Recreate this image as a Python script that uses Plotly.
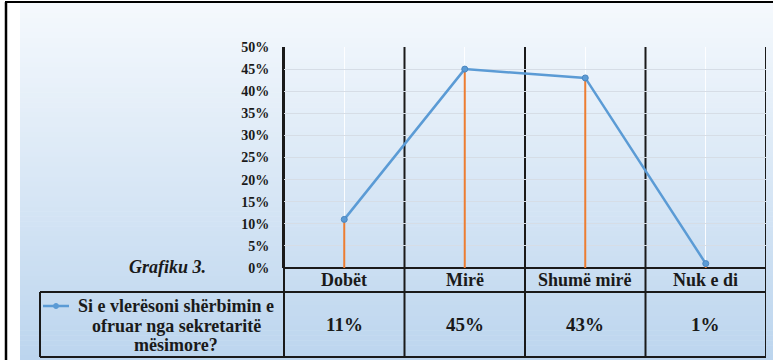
import plotly.graph_objects as go

# ---------------- data ----------------
categories = ["Dobët", "Mirë", "Shumë mirë", "Nuk e di"]
values = [11, 45, 43, 1]
value_labels = ["11%", "45%", "43%", "1%"]
series_lines = ["Si e vlerësoni shërbimin e", "ofruar nga sekretaritë", "mësimore?"]
y_tick_vals = [0, 5, 10, 15, 20, 25, 30, 35, 40, 45, 50]
y_tick_text = ["0%", "5%", "10%", "15%", "20%", "25%", "30%", "35%", "40%", "45%", "50%"]
chart_label = "Grafiku 3."

# ---------------- geometry helpers ----------------
W, H = 773, 360


def fx(px):
    return px / W


def fy(py):
    return 1 - py / H


PLOT_L, PLOT_R, PLOT_T, PLOT_B = 284, 766, 47, 268
ROW1_B, ROW2_B, LEG_L = 292, 357, 40

FONT = "Liberation Serif"
TXT = "#1a1a1a"
BLUE = "#5B9BD5"
ORANGE = "#ED7D31"

n = len(categories)
xs = list(range(n))

fig = go.Figure()

# drop lines
dx, dy = [], []
for i, v in zip(xs, values):
    dx += [i, i, None]
    dy += [0, v, None]
fig.add_trace(go.Scatter(x=dx, y=dy, mode="lines",
                         line=dict(color=ORANGE, width=2),
                         hoverinfo="skip", showlegend=False))

# main series
fig.add_trace(go.Scatter(x=xs, y=values, mode="lines+markers",
                         line=dict(color=BLUE, width=2.5),
                         marker=dict(color=BLUE, size=6,
                                     line=dict(color="#4a86c0", width=1)),
                         name=" ".join(series_lines), showlegend=False))

shapes = []

# gradient background bands
top_c = (245, 249, 253)
bot_c = (188, 213, 238)
g_top, g_bot = 3, 360
nb = 72
for k in range(nb):
    y0 = g_top + (g_bot - g_top) * k / nb
    y1 = g_top + (g_bot - g_top) * (k + 1) / nb + 0.6
    t = (k + 0.5) / nb
    c = tuple(round(top_c[j] + (bot_c[j] - top_c[j]) * t) for j in range(3))
    shapes.append(dict(type="rect", xref="paper", yref="paper",
                       x0=fx(20), x1=1, y0=fy(min(y1, H)), y1=fy(y0),
                       fillcolor="rgb(%d,%d,%d)" % c, line=dict(width=0),
                       layer="below"))

# outer frame lines
shapes.append(dict(type="line", xref="paper", yref="paper",
                   x0=fx(6), x1=fx(6), y0=0, y1=fy(2),
                   line=dict(color="black", width=2.5), layer="above"))
shapes.append(dict(type="line", xref="paper", yref="paper",
                   x0=fx(5), x1=1, y0=fy(2), y1=fy(2),
                   line=dict(color="black", width=2), layer="above"))

# category boundaries (vertical black lines)
for b in [i - 0.5 for i in xs] + [n - 0.5]:
    shapes.append(dict(type="line", xref="x", yref="paper",
                       x0=b, x1=b, y0=fy(ROW2_B), y1=fy(PLOT_T),
                       line=dict(color="#1a1a1a", width=2), layer="between"))

# table horizontal lines
shapes.append(dict(type="line", xref="paper", yref="paper",
                   x0=fx(PLOT_L), x1=fx(PLOT_R), y0=fy(PLOT_B), y1=fy(PLOT_B),
                   line=dict(color="#1a1a1a", width=2), layer="between"))
for yy in (ROW1_B, ROW2_B):
    shapes.append(dict(type="line", xref="paper", yref="paper",
                       x0=fx(LEG_L), x1=fx(PLOT_R), y0=fy(yy), y1=fy(yy),
                       line=dict(color="#1a1a1a", width=2), layer="above"))
shapes.append(dict(type="line", xref="paper", yref="paper",
                   x0=fx(LEG_L), x1=fx(LEG_L), y0=fy(ROW2_B), y1=fy(ROW1_B),
                   line=dict(color="#1a1a1a", width=2), layer="above"))
shapes.append(dict(type="line", xref="paper", yref="paper",
                   x0=fx(PLOT_L), x1=fx(PLOT_L), y0=fy(ROW2_B), y1=fy(PLOT_B),
                   line=dict(color="#1a1a1a", width=2), layer="above"))

# legend key in table
ky = 306
shapes.append(dict(type="line", xref="paper", yref="paper",
                   x0=fx(43), x1=fx(69), y0=fy(ky), y1=fy(ky),
                   line=dict(color=BLUE, width=2.5), layer="above"))
shapes.append(dict(type="circle", xref="paper", yref="paper",
                   x0=fx(53.5), x1=fx(58.5), y0=fy(ky + 2.5), y1=fy(ky - 2.5),
                   fillcolor=BLUE, line=dict(color=BLUE, width=1), layer="above"))

annotations = []
for i, (c, vl) in enumerate(zip(categories, value_labels)):
    annotations.append(dict(x=i, xref="x", y=fy((PLOT_B + ROW1_B) / 2), yref="paper",
                            text=c, showarrow=False, xanchor="center", yanchor="middle",
                            font=dict(family=FONT, size=18, color=TXT, weight="bold")))
    annotations.append(dict(x=i, xref="x", y=fy((ROW1_B + ROW2_B) / 2), yref="paper",
                            text=vl, showarrow=False, xanchor="center", yanchor="middle",
                            font=dict(family=FONT, size=19, color=TXT, weight="bold")))

for line_text, ly in zip(series_lines, [306, 326, 345]):
    annotations.append(dict(x=fx(176), xref="paper", y=fy(ly), yref="paper",
                            text=line_text, showarrow=False, xanchor="center",
                            yanchor="middle",
                            font=dict(family=FONT, size=18, color=TXT, weight="bold")))

annotations.append(dict(x=fx(167), xref="paper", y=fy(267), yref="paper",
                        text="<i>" + chart_label + "</i>", showarrow=False,
                        xanchor="center", yanchor="middle",
                        font=dict(family=FONT, size=18, color=TXT, weight="bold")))

fig.update_layout(
    width=W, height=H,
    margin=dict(l=0, r=0, t=0, b=0, pad=0),
    paper_bgcolor="white",
    plot_bgcolor="rgba(0,0,0,0)",
    shapes=shapes,
    annotations=annotations,
    showlegend=False,
    xaxis=dict(domain=[fx(PLOT_L), fx(PLOT_R)], range=[-0.5, n - 0.5],
               tickvals=xs, showticklabels=False, ticks="", automargin=False,
               showgrid=True, gridcolor="rgba(255,255,255,0.9)", gridwidth=1,
               zeroline=False, showline=False, fixedrange=True),
    yaxis=dict(domain=[fy(PLOT_B), fy(PLOT_T)], range=[0, 50], automargin=False,
               tickvals=y_tick_vals, ticktext=y_tick_text, ticks="",
               ticklabelstandoff=10,
               tickfont=dict(family=FONT, size=14, color=TXT, weight="bold"),
               showgrid=True, gridcolor="#d6dde6", gridwidth=1,
               zeroline=False, showline=True, linecolor="#1a1a1a", linewidth=2,
               fixedrange=True),
)

fig.write_html("out.html", config={"displayModeBar": False},
               post_script="document.body.style.margin='0';")
